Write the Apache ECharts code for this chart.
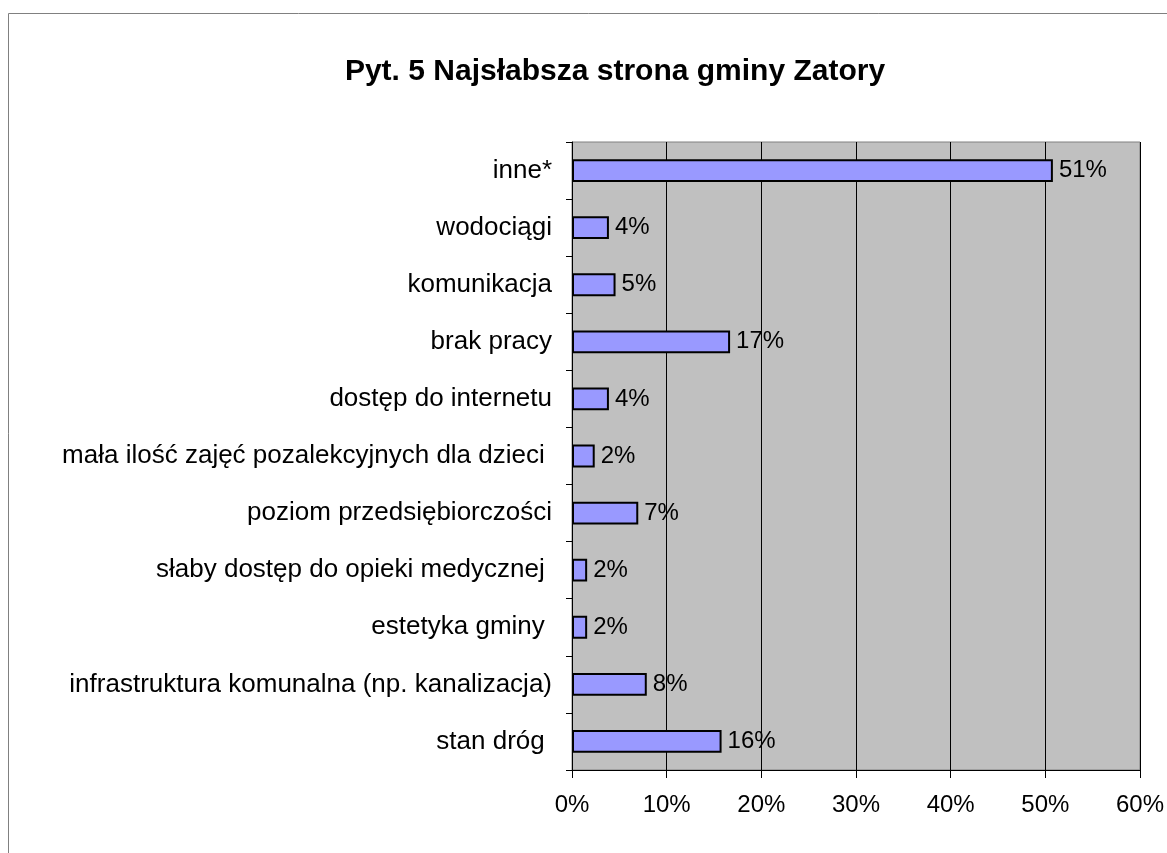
<!DOCTYPE html>
<html>
<head>
<meta charset="utf-8">
<title>Pyt. 5</title>
<script src="https://cdn.jsdelivr.net/npm/echarts@6/dist/echarts.min.js"></script>
<style>
  html, body { margin: 0; padding: 0; background: #fff; }
  #chart { width: 1167px; height: 853px; }
</style>
</head>
<body>
<div id="chart"></div>
<script>
// top-to-bottom order, as in the picture
const categories = [
  'inne*',
  'wodociągi',
  'komunikacja',
  'brak pracy',
  'dostęp do internetu',
  'mała ilość zajęć pozalekcyjnych dla dzieci ',
  'poziom przedsiębiorczości',
  'słaby dostęp do opieki medycznej ',
  'estetyka gminy ',
  'infrastruktura komunalna (np. kanalizacja)',
  'stan dróg '
];
const values = [50.8, 3.9, 4.6, 16.7, 3.9, 2.4, 7.0, 1.6, 1.6, 7.9, 15.8];
const xTicks = [0, 10, 20, 30, 40, 50, 60];

const font = '"Liberation Sans", Arial, sans-serif';
const chart = echarts.init(document.getElementById('chart'));

chart.setOption({
  animation: false,
  backgroundColor: '#ffffff',
  textStyle: { fontFamily: font },
  title: {
    text: 'Pyt. 5 Najsłabsza strona gminy Zatory',
    left: 610,
    textAlign: 'center',
    top: 52,
    textStyle: { fontFamily: font, fontSize: 30, fontWeight: 'bold', color: '#000' }
  },
  graphic: [{
    type: 'rect',
    silent: true,
    shape: { x: 8.5, y: 13.5, width: 1200, height: 900 },
    style: { fill: 'none', stroke: '#808080', lineWidth: 1 }
  }],
  grid: {
    left: 572,
    top: 142,
    right: 27,
    bottom: 83,
    show: true,
    backgroundColor: '#c0c0c0',
    borderColor: '#808080',
    borderWidth: 1
  },
  xAxis: {
    type: 'value',
    min: xTicks[0],
    max: xTicks[xTicks.length - 1],
    interval: 10,
    axisLine: { show: true, lineStyle: { color: '#000', width: 1 } },
    axisTick: { show: true, length: 8, lineStyle: { color: '#000' } },
    axisLabel: {
      margin: 23,
      fontSize: 24,
      color: '#000',
      fontFamily: font,
      formatter: v => v + '%'
    },
    splitLine: { show: true, lineStyle: { color: '#000', width: 1 } }
  },
  yAxis: {
    type: 'category',
    inverse: true,
    data: categories,
    axisLine: { show: true, lineStyle: { color: '#000', width: 1 } },
    axisTick: { show: true, length: 6, alignWithLabel: false, lineStyle: { color: '#000' } },
    axisLabel: { margin: 20, fontSize: 26, color: '#000', fontFamily: font }
  },
  series: [{
    type: 'bar',
    data: values,
    barWidth: '40%',
    itemStyle: { color: '#9999ff', borderColor: '#000', borderWidth: 2 },
    label: {
      show: true,
      position: 'right',
      distance: 6,
      fontSize: 24,
      color: '#000',
      fontFamily: font,
      formatter: p => Math.round(p.value) + '%'
    }
  }]
});
</script>
</body>
</html>
